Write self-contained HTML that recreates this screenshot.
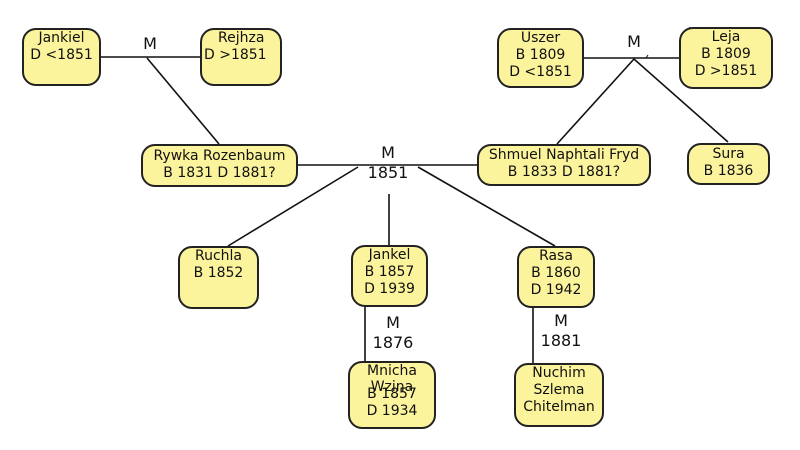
<!DOCTYPE html>
<html><head><meta charset="utf-8"><style>
body{margin:0;background:#fff;width:800px;height:450px;overflow:hidden;position:relative;font-family:"DejaVu Sans","Liberation Sans",sans-serif;}
.b{position:absolute;box-sizing:border-box;background:#fbf49c;border:2px solid #222;border-radius:14px;font-size:14px;line-height:17px;text-align:center;color:#111;padding-top:0px;}
.t{position:absolute;font-size:16px;line-height:20px;color:#111;text-align:center;}
svg{position:absolute;left:0;top:0;}
</style></head><body>
<svg width="800" height="450" stroke="#111" stroke-width="1.6" fill="none">
<line x1="100" y1="57" x2="200" y2="57"/>
<line x1="147" y1="58" x2="219" y2="144"/>
<line x1="297" y1="165" x2="477" y2="165"/>
<line x1="583" y1="58" x2="679" y2="58"/>
<line x1="634" y1="59" x2="557" y2="144"/>
<line x1="634" y1="59" x2="728" y2="142"/>
<line x1="358" y1="167" x2="228" y2="246"/>
<line x1="389" y1="194" x2="389" y2="246"/>
<line x1="418" y1="167" x2="555" y2="246"/>
<line x1="365" y1="307" x2="365" y2="361"/>
<line x1="533" y1="307" x2="533" y2="363"/>
<line x1="648" y1="55" x2="646" y2="58" stroke-width="1"/>
<line x1="690" y1="27" x2="688" y2="30" stroke-width="1"/>
</svg>
<div class="b" style="left:22px;top:28px;width:79px;height:58px">Jankiel<br>D &lt;1851</div>
<div class="b" style="left:200px;top:28px;width:82px;height:58px;text-align:left;padding-left:2px"><span style="padding-left:14px">Rejhza</span><br>D &gt;1851</div>
<div class="t" style="left:140px;top:34px;width:20px">M</div>
<div class="b" style="left:141px;top:144px;width:157px;height:43px;padding-top:2px">Rywka Rozenbaum<br>B 1831 D 1881?</div>
<div class="t" style="left:366px;top:143px;width:44px">M<br>1851</div>
<div class="b" style="left:477px;top:144px;width:174px;height:42px;padding-top:1px">Shmuel Naphtali Fryd<br>B 1833 D 1881?</div>
<div class="b" style="left:497px;top:28px;width:87px;height:60px">Uszer<br>B 1809<br>D &lt;1851</div>
<div class="t" style="left:624px;top:32px;width:20px">M</div>
<div class="b" style="left:679px;top:27px;width:94px;height:62px">Leja<br>B 1809<br>D &gt;1851</div>
<div class="b" style="left:687px;top:143px;width:83px;height:42px;padding-top:1px">Sura<br>B 1836</div>
<div class="b" style="left:178px;top:246px;width:81px;height:63px">Ruchla<br>B 1852</div>
<div class="b" style="left:351px;top:245px;width:77px;height:62px">Jankel<br>B 1857<br>D 1939</div>
<div class="b" style="left:517px;top:246px;width:78px;height:62px">Rasa<br>B 1860<br>D 1942</div>
<div class="t" style="left:368px;top:313px;width:50px">M<br>1876</div>
<div class="t" style="left:536px;top:311px;width:50px">M<br>1881</div>
<div class="b" style="left:348px;top:361px;width:88px;height:68px;overflow:hidden">Mnicha<br><span style="position:relative;top:-1px">Wzina</span><div style="margin-top:-11px">B 1857<br>D 1934</div></div>
<div class="b" style="left:514px;top:363px;width:90px;height:64px">Nuchim<br>Szlema<br>Chitelman</div>
</body></html>
